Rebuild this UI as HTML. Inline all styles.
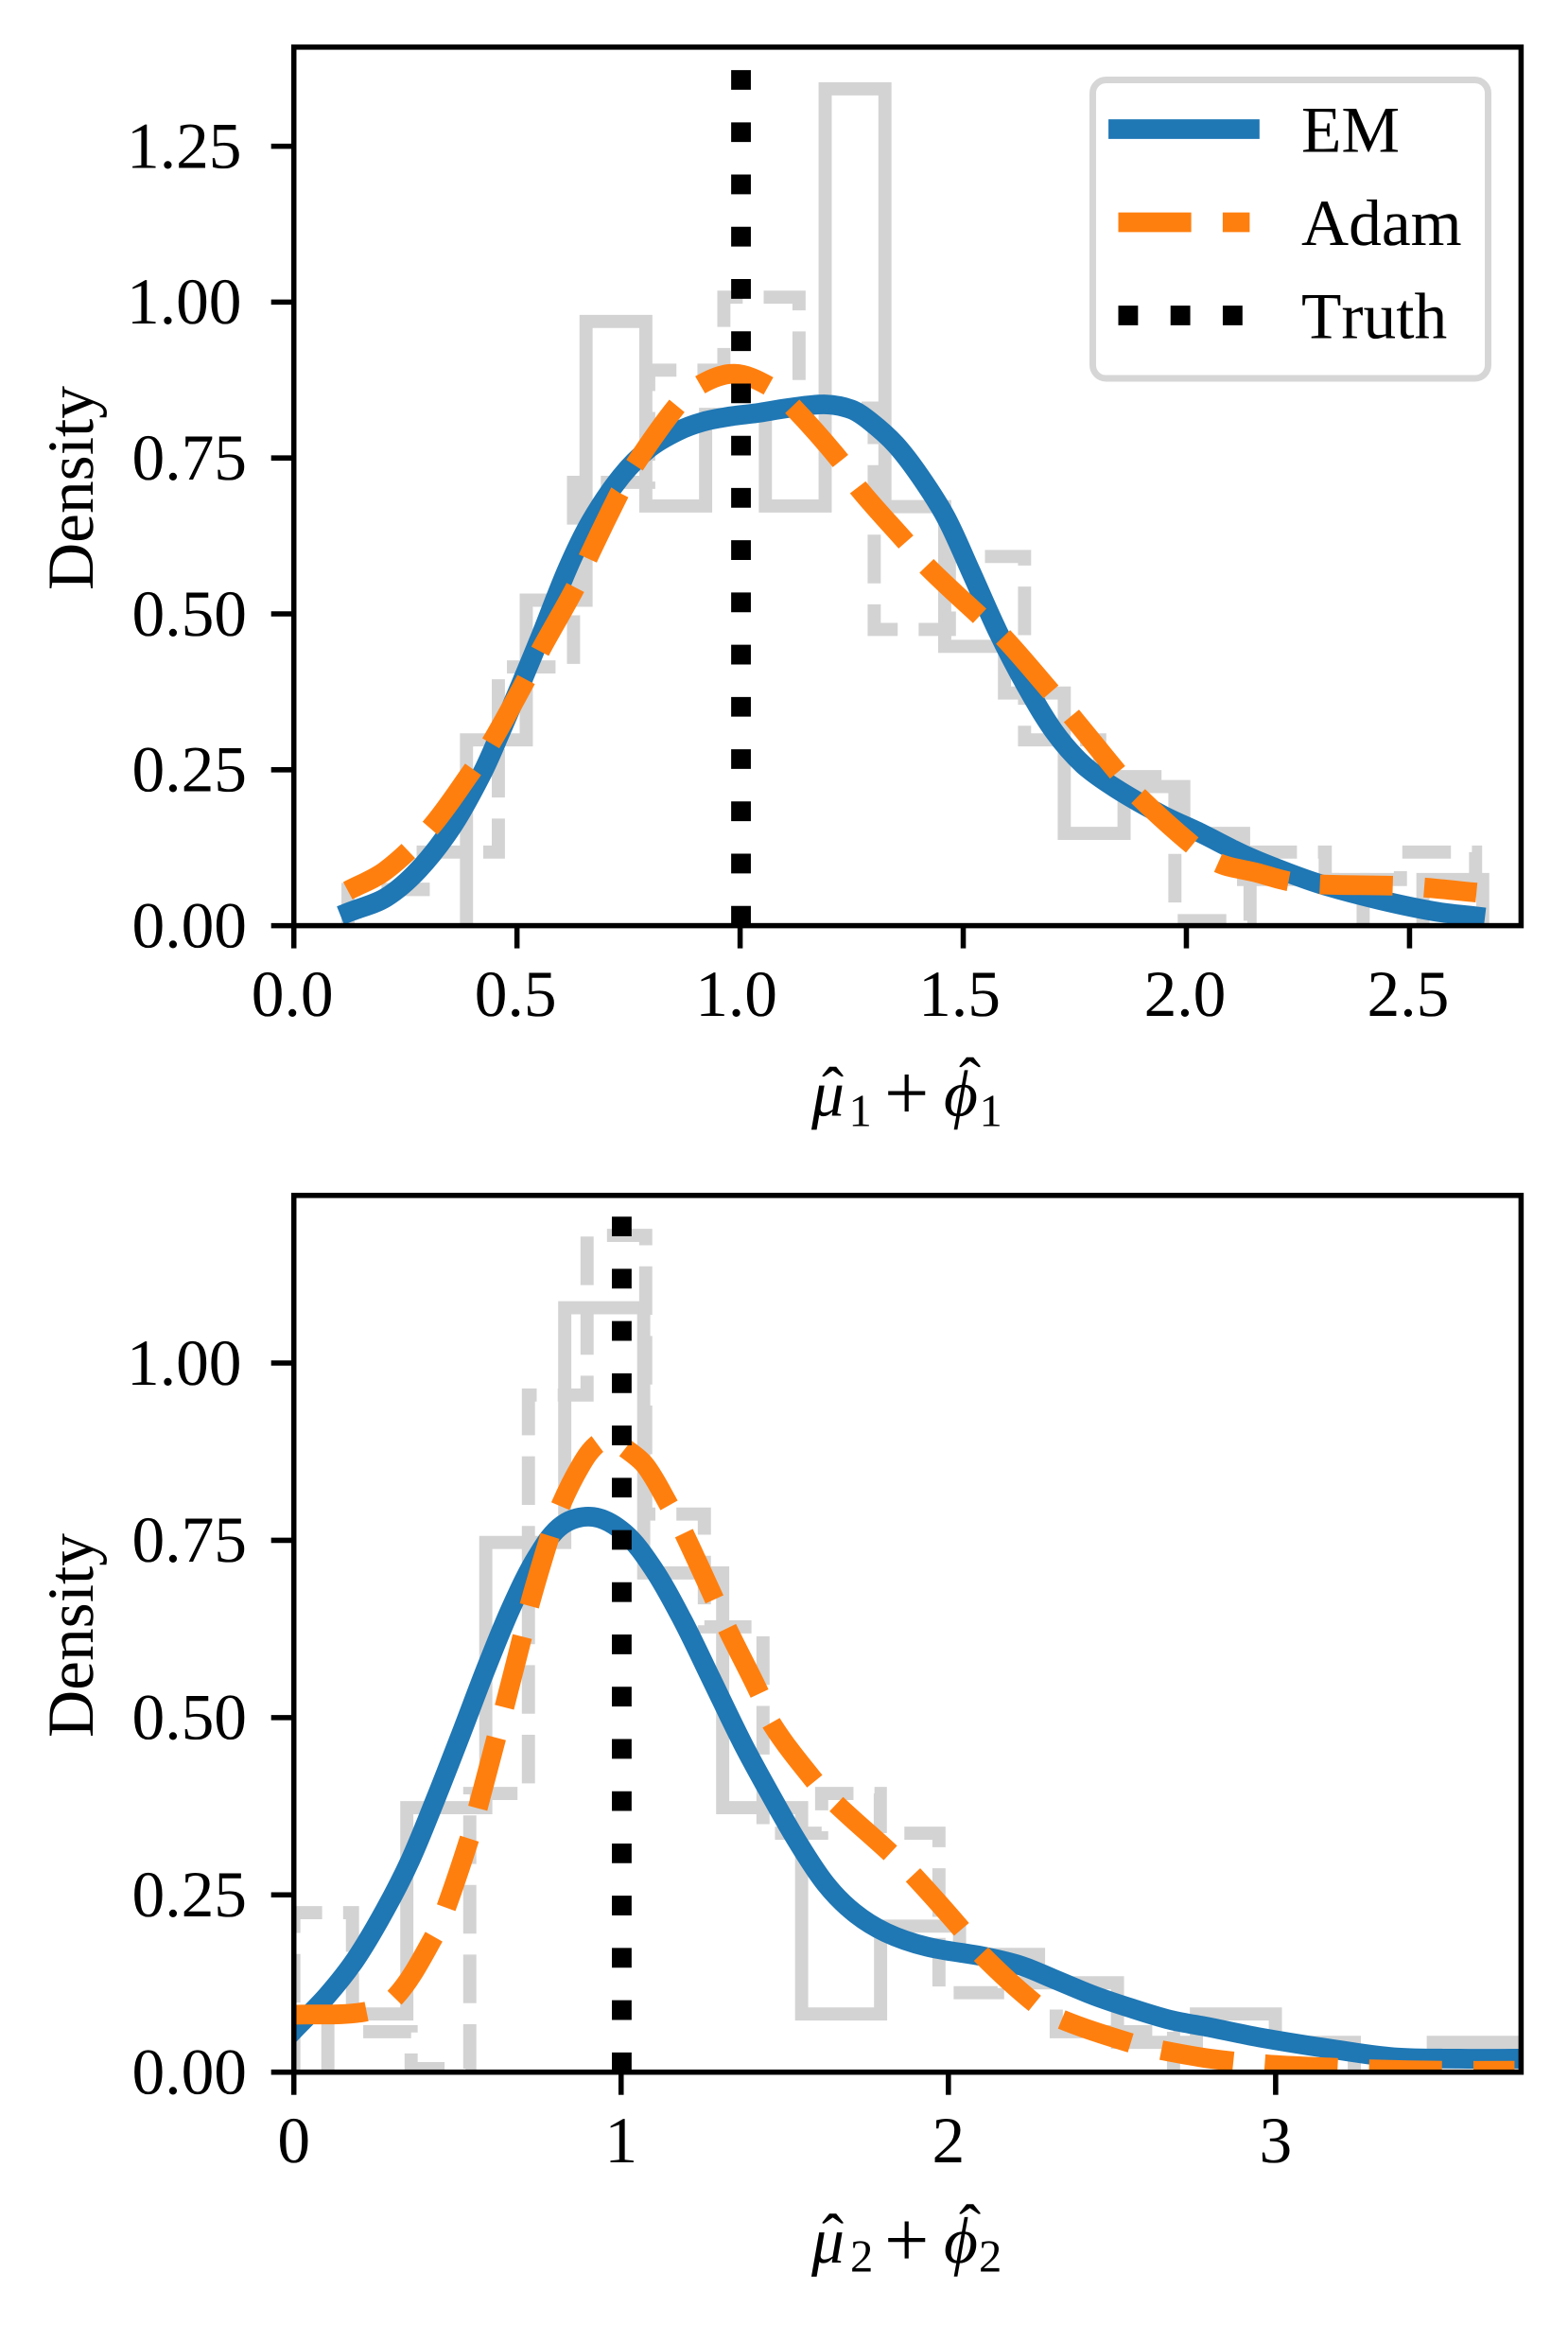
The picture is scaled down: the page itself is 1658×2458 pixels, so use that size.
<!DOCTYPE html>
<html>
<head>
<meta charset="utf-8">
<title>Density of mu + phi estimates</title>
<style>
html,body{margin:0;padding:0;background:#fff;}
svg{display:block;}
text{font-family:"Liberation Serif","DejaVu Serif",serif;fill:#000;font-kerning:none;text-rendering:geometricPrecision;}
.t{font-size:69.44px;}
.s{font-size:48.6px;}
.i{font-style:italic;font-size:69.44px;}
.p{font-size:84px;}
</style>
</head>
<body>
<svg id="fig" xmlns="http://www.w3.org/2000/svg" width="1658" height="2458" viewBox="0 0 1658 2458">
<rect x="0" y="0" width="1658" height="2458" fill="#fff"/>
<defs>
<clipPath id="clip-top"><rect x="310.7" y="49.8" width="1297.7" height="928.8"/></clipPath>
<clipPath id="clip-bottom"><rect x="310.7" y="1263.8" width="1297.7" height="926.9"/></clipPath>
</defs>
<g id="panel-top"></g>
<g id="panel-bottom"></g>

<text class="t" transform="translate(98,516) rotate(-90)" text-anchor="middle">Density</text>
<text class="t" transform="translate(98,1729) rotate(-90)" text-anchor="middle">Density</text>

<g>
<text class="i" x="858" y="1179.5">μ</text>
<text class="t" x="869" y="1176">ˆ</text>
<text class="s" x="897.5" y="1190.6">1</text>
<text class="p" x="935" y="1183.5">+</text>
<text class="i" x="998" y="1179.5">ϕ</text>
<text class="t" x="1014" y="1166">ˆ</text>
<text class="s" x="1035.5" y="1190.6">1</text>
</g>
<g>
<text class="i" x="858" y="2392">μ</text>
<text class="t" x="869" y="2388.5">ˆ</text>
<text class="s" x="899" y="2401.6">2</text>
<text class="p" x="935" y="2396">+</text>
<text class="i" x="998" y="2392">ϕ</text>
<text class="t" x="1014" y="2378.5">ˆ</text>
<text class="s" x="1035" y="2401.6">2</text>
</g>

<g>
<rect x="1155.5" y="84.5" width="418" height="315.5" rx="14" ry="14" fill="#fff" stroke="#d6d6d6" stroke-width="6.94"/>
<g>
<line x1="1182.5" y1="136.5" x2="1321.4" y2="136.5" stroke="#1f77b4" stroke-width="20.83" stroke-linecap="square"/>
<text class="t" x="1376" y="160.5">EM</text>
</g>
<g>
<line x1="1182.5" y1="235" x2="1321.4" y2="235" stroke="#ff7f0e" stroke-width="20.83" stroke-dasharray="77.1 33.3"/>
<text class="t" x="1376" y="259">Adam</text>
</g>
<g>
<line x1="1182.5" y1="333.5" x2="1321.4" y2="333.5" stroke="#000" stroke-width="20.83" stroke-dasharray="20.83 34.4"/>
<text class="t" x="1376" y="357.5">Truth</text>
</g>
</g>
</svg>
<script>
// ---- top panel data ----
const topXTicks = [0, 0.5, 1, 1.5, 2, 2.5];
const topXTickLabels = ['0.0', '0.5', '1.0', '1.5', '2.0', '2.5'];
const topYTicks = [0, 0.25, 0.5, 0.75, 1, 1.25];
const topYTickLabels = ['0.00', '0.25', '0.50', '0.75', '1.00', '1.25'];
const topTruthX = [1.002];
const topTruthTop = [1.38];
const topHistSolidRange = [0.119, 2.664];
const topHistSolid = [0, 0, 0.298, 0.522, 0.969, 0.673, 0.82, 0.673, 1.342, 0.672, 0.448, 0.373, 0.148, 0.223, 0.148, 0.074, 0.074, 0, 0.074];
const topHistDashedRange = [0.1214, 2.648];
const topHistDashed = [0.058, 0.118, 0.415, 0.711, 0.891, 1.008, 0.83, 0.475, 0.592, 0.298, 0.239, 0.008, 0.118, 0.074, 0.118];
const topEmX = [0.125, 0.206, 0.28, 0.356, 0.421, 0.463, 0.508, 0.553, 0.613, 0.665, 0.733, 0.797, 0.86, 0.916, 0.98, 1.037, 1.107, 1.189, 1.249, 1.291, 1.348, 1.403, 1.461, 1.517, 1.578, 1.639, 1.704, 1.769, 1.842, 1.947, 2.028, 2.134, 2.231, 2.312, 2.434, 2.555, 2.647];
const topEmY = [0.022, 0.045, 0.09, 0.16, 0.243, 0.31, 0.386, 0.464, 0.572, 0.648, 0.72, 0.766, 0.793, 0.808, 0.817, 0.822, 0.83, 0.836, 0.828, 0.809, 0.772, 0.721, 0.655, 0.568, 0.471, 0.387, 0.311, 0.258, 0.22, 0.177, 0.15, 0.112, 0.084, 0.064, 0.041, 0.023, 0.015];
const topAdamX = [0.121, 0.205, 0.306, 0.401, 0.441, 0.52, 0.553, 0.632, 0.66, 0.729, 0.763, 0.859, 0.912, 0.987, 1.065, 1.118, 1.224, 1.266, 1.372, 1.422, 1.538, 1.592, 1.699, 1.744, 1.848, 1.893, 2.012, 2.073, 2.157, 2.23, 2.301, 2.465, 2.535, 2.65];
const topAdamY = [0.056, 0.088, 0.157, 0.25, 0.292, 0.394, 0.442, 0.544, 0.591, 0.693, 0.738, 0.834, 0.868, 0.885, 0.865, 0.832, 0.746, 0.701, 0.615, 0.574, 0.496, 0.461, 0.373, 0.335, 0.244, 0.207, 0.13, 0.1, 0.085, 0.071, 0.066, 0.064, 0.061, 0.053];

// ---- bottom panel data ----
const botXTicks = [0, 1, 2, 3];
const botXTickLabels = ['0', '1', '2', '3'];
const botYTicks = [0, 0.25, 0.5, 0.75, 1];
const botYTickLabels = ['0.00', '0.25', '0.50', '0.75', '1.00'];
const botTruthX = [1.002];
const botTruthTop = [1.21];
const botHistSolidRange = [0.104, 3.723];
const botHistSolid = [0.082, 0.373, 0.747, 1.078, 0.704, 0.373, 0.082, 0.206, 0.166, 0.126, 0.042, 0.082, 0.042, 0, 0.042];
const botHistDashedRange = [0.0, 2.688];
const botHistDashed = [0.225, 0.057, 0.005, 0.393, 0.955, 1.18, 0.787, 0.628, 0.337, 0.393, 0.337, 0.112, 0.126, 0.057, 0.057];
const botEmX = [-0.05, 0.008, 0.102, 0.19, 0.279, 0.356, 0.433, 0.511, 0.588, 0.666, 0.743, 0.821, 0.915, 1.009, 1.097, 1.186, 1.274, 1.371, 1.452, 1.539, 1.626, 1.712, 1.809, 1.934, 2.108, 2.223, 2.319, 2.445, 2.56, 2.676, 2.801, 2.951, 3.18, 3.362, 3.561, 3.744, 3.8];
const botEmY = [0.035, 0.063, 0.108, 0.16, 0.229, 0.299, 0.385, 0.477, 0.57, 0.657, 0.727, 0.772, 0.783, 0.761, 0.711, 0.639, 0.556, 0.464, 0.395, 0.325, 0.265, 0.225, 0.197, 0.177, 0.163, 0.15, 0.132, 0.108, 0.09, 0.074, 0.063, 0.049, 0.032, 0.021, 0.019, 0.019, 0.019];
const botAdamX = [0, 0.216, 0.31, 0.428, 0.467, 0.537, 0.563, 0.619, 0.644, 0.699, 0.721, 0.784, 0.817, 0.876, 0.923, 0.969, 1.015, 1.075, 1.147, 1.191, 1.285, 1.324, 1.423, 1.462, 1.592, 1.66, 1.823, 1.894, 2.041, 2.103, 2.267, 2.348, 2.558, 2.651, 2.8, 2.973, 3.186, 3.287, 3.507, 3.73];
const botAdamY = [0.081, 0.085, 0.106, 0.191, 0.234, 0.33, 0.374, 0.472, 0.516, 0.616, 0.66, 0.758, 0.801, 0.855, 0.884, 0.892, 0.879, 0.855, 0.799, 0.761, 0.667, 0.626, 0.534, 0.49, 0.41, 0.377, 0.309, 0.277, 0.201, 0.165, 0.096, 0.074, 0.041, 0.031, 0.019, 0.011, 0.006, 0.004, 0.002, 0.002];

const NS = 'http://www.w3.org/2000/svg';
function svgEl(tag, parent) {
  const el = document.createElementNS(NS, tag);
  parent.appendChild(el);
  return el;
}

// Builds a smooth path through the points using chord-scaled tangents.
function smoothPath(xs, ys, sx, sy) {
  const p = xs.map(function (v, i) { return [sx(v), sy(ys[i])]; });
  const tan = p.map(function (q, i) {
    const a = p[Math.max(i - 1, 0)];
    const b = p[Math.min(i + 1, p.length - 1)];
    const dx = b[0] - a[0], dy = b[1] - a[1];
    const n = Math.hypot(dx, dy) || 1;
    return [dx / n, dy / n];
  });
  let d = 'M' + p[0][0].toFixed(2) + ' ' + p[0][1].toFixed(2);
  for (let i = 0; i < p.length - 1; i++) {
    const len = Math.hypot(p[i + 1][0] - p[i][0], p[i + 1][1] - p[i][1]) / 3;
    d += 'C' + (p[i][0] + tan[i][0] * len).toFixed(2) + ' ' + (p[i][1] + tan[i][1] * len).toFixed(2) + ' ' +
      (p[i + 1][0] - tan[i + 1][0] * len).toFixed(2) + ' ' + (p[i + 1][1] - tan[i + 1][1] * len).toFixed(2) + ' ' +
      p[i + 1][0].toFixed(2) + ' ' + p[i + 1][1].toFixed(2);
  }
  return d;
}

// Builds a step outline; zero-height bins leave no stroke along the baseline.
function stepPath(range, vals, sx, sy) {
  const w = (range[1] - range[0]) / vals.length;
  const edge = function (i) { return sx(range[0] + i * w).toFixed(2); };
  const base = sy(0).toFixed(2);
  let d = '';
  let open = false;
  vals.forEach(function (h, i) {
    if (h > 0) {
      if (!open) { d += 'M' + edge(i) + ' ' + base; open = true; }
      const yy = sy(h).toFixed(2);
      d += 'L' + edge(i) + ' ' + yy + 'L' + edge(i + 1) + ' ' + yy;
    } else if (open) {
      d += 'L' + edge(i) + ' ' + base;
      open = false;
    }
  });
  if (open) { d += 'L' + edge(vals.length) + ' ' + base; }
  return d;
}

function drawPanel(g, clipId, box, xMax, yMax, prefix, cfg) {
  const sx = function (v) { return box.left + (box.right - box.left) * v / xMax; };
  const sy = function (v) { return box.bottom - (box.bottom - box.top) * v / yMax; };
  const plot = svgEl('g', g);
  plot.setAttribute('clip-path', 'url(#' + clipId + ')');
  
  

  const hs = svgEl('path', plot);
  hs.setAttribute('d', stepPath(cfg.solidRange, cfg.solid, sx, sy));
  hs.setAttribute('fill', 'none');
  hs.setAttribute('stroke', '#d3d3d3');
  hs.setAttribute('stroke-width', '13.89');
  hs.setAttribute('stroke-linejoin', 'miter');
  
  

  const hd = svgEl('path', plot);
  hd.setAttribute('d', stepPath(cfg.dashedRange, cfg.dashed, sx, sy));
  hd.setAttribute('fill', 'none');
  hd.setAttribute('stroke', '#d3d3d3');
  hd.setAttribute('stroke-width', '13.89');
  hd.setAttribute('stroke-dasharray', '51.4 22.2');
  
  

  const em = svgEl('path', plot);
  em.setAttribute('d', smoothPath(cfg.emX, cfg.emY, sx, sy));
  em.setAttribute('fill', 'none');
  em.setAttribute('stroke', '#1f77b4');
  em.setAttribute('stroke-width', '20.83');
  em.setAttribute('stroke-linecap', 'square');
  
  

  const ad = svgEl('path', plot);
  ad.setAttribute('d', smoothPath(cfg.adamX, cfg.adamY, sx, sy));
  ad.setAttribute('fill', 'none');
  ad.setAttribute('stroke', '#ff7f0e');
  ad.setAttribute('stroke-width', '20.83');
  ad.setAttribute('stroke-dasharray', '77.1 33.3');
  
  

  const tr = svgEl('line', plot);
  tr.setAttribute('x1', sx(cfg.truthX[0]));
  tr.setAttribute('x2', sx(cfg.truthX[0]));
  tr.setAttribute('y1', sy(0));
  tr.setAttribute('y2', sy(cfg.truthTop[0]));
  tr.setAttribute('stroke', '#000');
  tr.setAttribute('stroke-width', '20.83');
  tr.setAttribute('stroke-dasharray', '20.83 34.4');
  
  

  cfg.yTicks.forEach(function (v, i) {
    const t = svgEl('line', g);
    t.setAttribute('x1', box.left - 24);
    t.setAttribute('x2', box.left);
    t.setAttribute('y1', sy(v));
    t.setAttribute('y2', sy(v));
    t.setAttribute('stroke', '#000');
    t.setAttribute('stroke-width', '5.55');
    
    
    const l = svgEl('text', g);
    l.setAttribute('class', 't');
    l.setAttribute('x', cfg.yLabels[i].charAt(0) === '1' ? 255.5 : 261);
    l.setAttribute('y', sy(v) + 22.8);
    l.setAttribute('text-anchor', 'end');
    l.textContent = cfg.yLabels[i];
    
    
  });
  cfg.xTicks.forEach(function (v, i) {
    const t = svgEl('line', g);
    t.setAttribute('x1', sx(v));
    t.setAttribute('x2', sx(v));
    t.setAttribute('y1', box.bottom);
    t.setAttribute('y2', box.bottom + 24);
    t.setAttribute('stroke', '#000');
    t.setAttribute('stroke-width', '5.55');
    
    
    const l = svgEl('text', g);
    const lab = cfg.xLabels[i];
    const nudge = lab.indexOf('1.') === 0 ? -4 : (lab.indexOf('.') > 0 ? -1.5 : 0);
    l.setAttribute('class', 't');
    l.setAttribute('x', sx(v) + nudge);
    l.setAttribute('y', box.bottom + 95.4);
    l.setAttribute('text-anchor', 'middle');
    l.textContent = lab;
    
    
  });

  const frame = svgEl('rect', g);
  frame.setAttribute('x', box.left);
  frame.setAttribute('y', box.top);
  frame.setAttribute('width', box.right - box.left);
  frame.setAttribute('height', box.bottom - box.top);
  frame.setAttribute('fill', 'none');
  frame.setAttribute('stroke', '#000');
  frame.setAttribute('stroke-width', '5.55');
  
  
}

drawPanel(document.getElementById('panel-top'), 'clip-top',
  { left: 310.7, right: 1608.4, top: 49.8, bottom: 978.6 }, 2.75, 1.409, 'top', {
    solidRange: topHistSolidRange, solid: topHistSolid,
    dashedRange: topHistDashedRange, dashed: topHistDashed,
    emX: topEmX, emY: topEmY, adamX: topAdamX, adamY: topAdamY,
    truthX: topTruthX, truthTop: topTruthTop,
    xTicks: topXTicks, xLabels: topXTickLabels, yTicks: topYTicks, yLabels: topYTickLabels
  });
drawPanel(document.getElementById('panel-bottom'), 'clip-bottom',
  { left: 310.7, right: 1608.4, top: 1263.8, bottom: 2190.7 }, 3.75, 1.2364, 'bottom', {
    solidRange: botHistSolidRange, solid: botHistSolid,
    dashedRange: botHistDashedRange, dashed: botHistDashed,
    emX: botEmX, emY: botEmY, adamX: botAdamX, adamY: botAdamY,
    truthX: botTruthX, truthTop: botTruthTop,
    xTicks: botXTicks, xLabels: botXTickLabels, yTicks: botYTicks, yLabels: botYTickLabels
  });
</script>
</body>
</html>
